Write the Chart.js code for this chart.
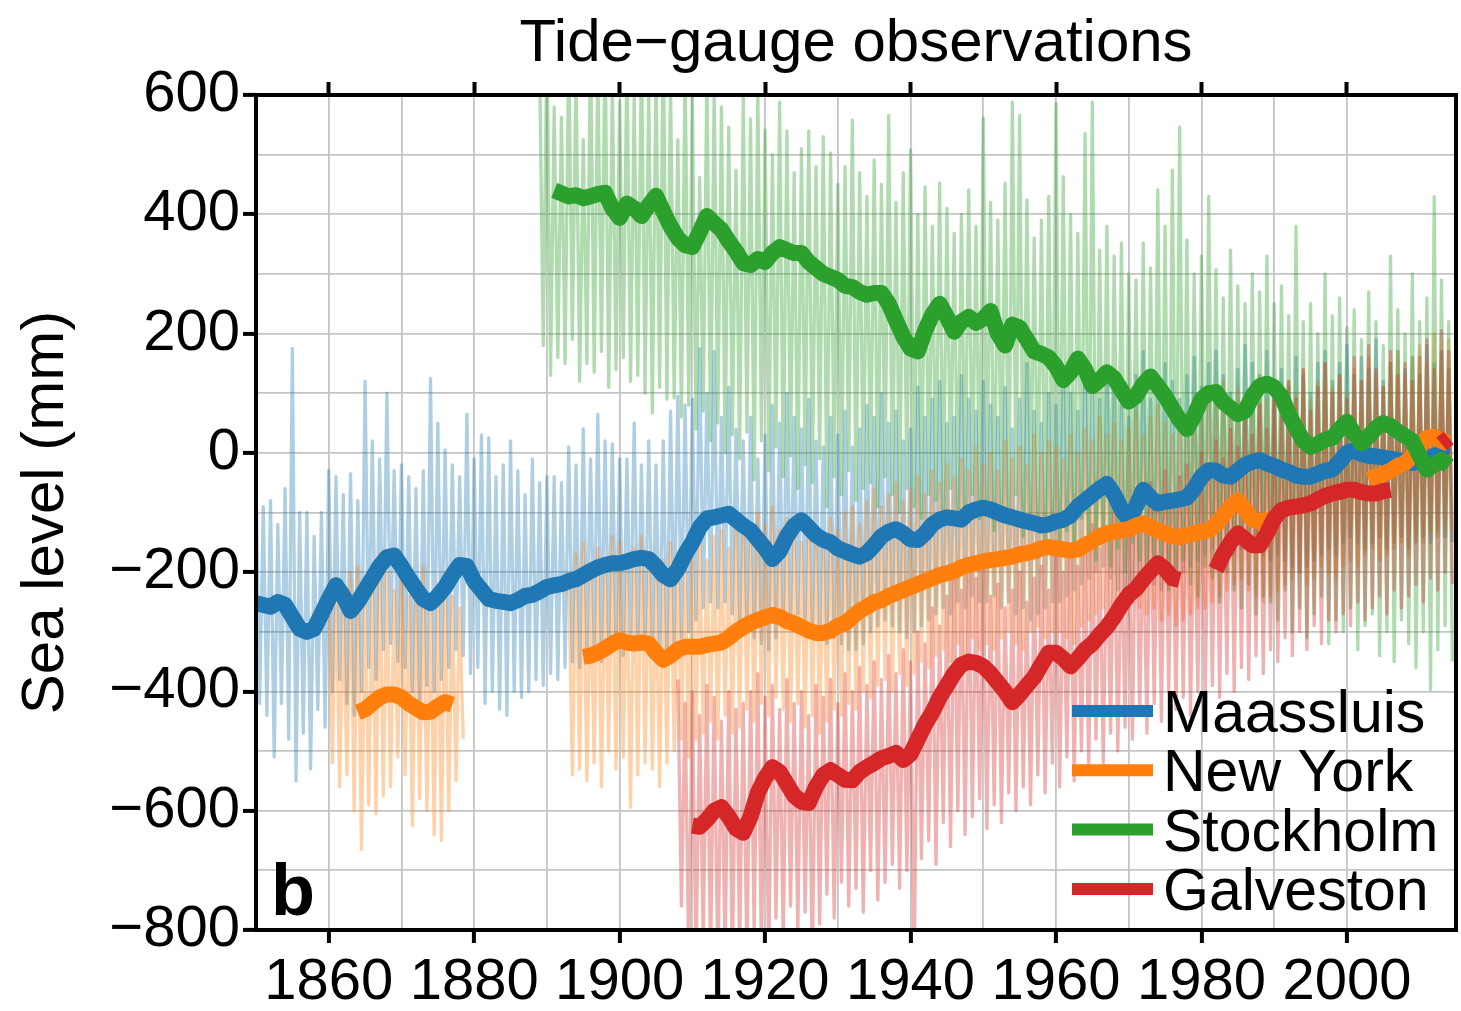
<!DOCTYPE html>
<html>
<head>
<meta charset="utf-8">
<title>Tide-gauge observations</title>
<script src="https://cdn.jsdelivr.net/npm/chart.js@4.4.1/dist/chart.umd.min.js"></script>
<style>
  html, body { margin: 0; padding: 0; background: #fff; }
  canvas { display: block; }
</style>
</head>
<body>
<canvas id="seaLevelChart" width="1461" height="1011"></canvas>
<script>
// ---- data (mm, one value per year) ----
const chartTitle = 'Tide\u2212gauge observations';
const stationNames = ['Maassluis', 'New York', 'Stockholm', 'Galveston'];
const stationColors = ['#1f77b4', '#ff7f0e', '#2ca02c', '#d62728'];
const stationLight = ['rgba(31,119,180,0.36)', 'rgba(255,127,14,0.36)', 'rgba(44,160,44,0.38)', 'rgba(214,39,40,0.36)'];

// Maassluis
const maassluisStart = 1850;
const maassluisSmooth = [
  -252, -255, -258, -250, -255, -275, -295, -300, -295, -270,
  -245, -222, -240, -265, -250, -230, -210, -190, -175, -172,
  -190, -210, -228, -245, -252, -240, -225, -205, -188, -190,
  -215, -230, -245, -248, -250, -252, -247, -240, -238, -232,
  -225, -222, -220, -215, -212, -205, -198, -192, -188, -185,
  -185, -182, -178, -176, -178, -190, -205, -212, -195, -170,
  -150, -125, -110, -108, -105, -102, -112, -122, -130, -145,
  -160, -178, -165, -140, -122, -113, -125, -138, -146, -150,
  -160, -165, -170, -174, -168, -155, -140, -132, -128, -135,
  -145, -146, -135, -120, -112, -108, -110, -112, -100, -95,
  -92, -95, -100, -105, -108, -112, -115, -118, -122, -120,
  -115, -112, -105, -90, -80, -70, -60, -52, -70, -95,
  -112, -90, -62, -75, -85, -82, -80, -78, -75, -60,
  -40, -29, -30, -38, -40, -30, -20, -15, -12, -18,
  -22, -28, -32, -38, -40, -40, -35, -30, -28, -15,
  0, 5, -2, -5, -6, -8, -10, -12, -15, -17,
  -12, -8, -5, -2, -5
];
const maassluisHigh = [
  -40, -90, -80, -120, -60, 175, -100, -100, -140, -100,
  -30, -40, -70, -35, -80, 120, 20, -10, 100, -30,
  -20, -40, -60, -30, 125, 50, 5, -20, -40, 65,
  -10, 30, 25, -40, -20, 20, -30, -70, -10, -50,
  -40, -40, -50, 10, -20, 40, -10, 65, 20, 15,
  -10, -10, 50, -20, 20, -20, 20, 70, 95, 80,
  90, 175, 100, 170, 60, 110, 40, 20, 60, -10,
  30, 80, 50, 100, 60, 40, 90, 20, 10, 60,
  30, 70, 10, 40, 80, 60, 100, 50, 70, 20,
  40, 110, 60, 90, 120, 50, 60, 130, 90, 70,
  120, 80, 60, 110, 40, 90, 150, 70, 50, 100,
  80, 140, 100, 70, 160, 110, 90, 140, 120, 80,
  60, 130, 170, 90, 110, 150, 120, 90, 130, 160,
  110, 150, 170, 130, 100, 140, 180, 150, 130, 170,
  120, 140, 110, 160, 130, 100, 150, 170, 120, 150,
  180, 130, 160, 140, 190, 120, 150, 170, 140, 160,
  130, 180, 150, 170, 140
];
const maassluisLow = [
  -420, -440, -510, -420, -480, -550, -470, -530, -430, -460,
  -400, -380, -420, -440, -400, -360, -380, -330, -320, -350,
  -360, -400, -420, -390, -400, -380, -360, -330, -340, -370,
  -360, -420, -400, -430, -440, -400, -410, -400, -380, -390,
  -370, -380, -360, -350, -360, -340, -330, -350, -330, -320,
  -340, -320, -320, -330, -330, -340, -350, -320, -310, -300,
  -280, -260, -250, -260, -250, -270, -280, -300, -310, -320,
  -330, -310, -290, -280, -270, -290, -300, -310, -320, -310,
  -320, -330, -330, -320, -300, -290, -280, -290, -300, -310,
  -300, -290, -280, -270, -260, -270, -250, -260, -240, -250,
  -250, -240, -260, -250, -270, -260, -280, -270, -260, -250,
  -250, -240, -230, -220, -210, -200, -190, -210, -230, -240,
  -250, -230, -210, -220, -230, -220, -210, -200, -190, -180,
  -170, -160, -170, -180, -170, -160, -150, -160, -170, -180,
  -170, -180, -190, -200, -190, -180, -170, -160, -170, -150,
  -140, -150, -160, -150, -140, -160, -150, -140, -160, -150,
  -140, -150, -130, -140, -150
];

// New York
const newYorkStart = 1864;
const newYorkSmooth = [
  -435, -430, -420, -410, -405, -405, -410, -420, -428, -435, -434, -425, -418, -422,
  null, null, null, null, null, null, null, null, null, null, null, null, null, null, null, null, null,
  -342, -340, -335, -328, -320,
  -314, -318, -320, -318, -320, -335, -347, -340, -330, -325,
  -325, -325, -322, -320, -318, -310, -300, -292, -285, -280,
  -276, -272, -275, -282, -286, -292, -298, -302, -302, -298,
  -290, -286, -275, -265, -258, -250, -247, -240, -235, -230,
  -225, -220, -215, -210, -205, -202, -198, -192, -188, -185,
  -182, -180, -178, -176, -174, -170, -168, -165, -160, -158,
  -160, -162, -164, -162, -155, -148, -140, -135, -132, -130,
  -128, -122, -118, -125, -130, -135, -140, -141, -138, -135,
  -132, -130, -120, -105, -90, -80, -95, -112, -115, -113,
  -110,
  null, null, null, null, null, null, null, null, null, null, null, null,
  -45, -40, -35, -30, -22, -17, -5,
  10, 25, 27, 20, 16
];
const newYorkRawStart = 1860;
const newYorkHigh = [
  -230, -210, -250, -200, -190, -240, -220, -170, -200, -230,
  -180, -240, -210, -190, -250, -220, -200, -240, -260,
  null, null, null, null, null, null, null, null, null, null, null, null, null, null,
  -200, -170, -150, -210, -160, -180, -140,
  -150, -190, -160, -140, -170, -200, -180, -150, -170, -190,
  -160, -150, -180, -140, -130, -160, -120, -110, -140, -100,
  -120, -90, -130, -110, -140, -150, -120, -130, -160, -110,
  -130, -100, -90, -120, -80, -60, -90, -70, -50, -80,
  -60, -40, -70, -30, -50, -20, -40, -10, -30, 10,
  -20, 0, -30, 20, -10, 10, -20, 30, 0, 20,
  10, -10, 30, 0, 40, 20, 60, 30, 50, 20,
  40, 70, 30, 60, 80, 50, 30, 70, 60, 90,
  60, 100, 80, 120, 90, 110, 70, 100, 130, 90,
  110, 80, 120, 100, 140, 90, 120, 150, 110, 130,
  100, 140, 120, 160, 130, 110, 150, 170, 130, 160,
  180, 150, 200, 170, 190
];
const newYorkLow = [
  -520, -560, -540, -600, -665, -590, -605, -575, -560, -510,
  -540, -625, -580, -600, -640, -650, -600, -550, -480,
  null, null, null, null, null, null, null, null, null, null, null, null, null, null,
  -540, -530, -550, -520, -560, -500, -530,
  -510, -594, -540, -520, -530, -560, -520, -500, -480, -510,
  -480, -470, -450, -480, -440, -470, -460, -430, -450, -420,
  -440, -410, -430, -450, -420, -460, -440, -470, -450, -430,
  -440, -420, -430, -400, -410, -390, -380, -400, -370, -390,
  -370, -350, -360, -340, -330, -350, -320, -340, -310, -330,
  -320, -330, -310, -300, -320, -330, -300, -290, -310, -300,
  -300, -310, -320, -290, -280, -270, -260, -280, -270, -250,
  -250, -260, -270, -260, -280, -270, -290, -280, -270, -260,
  -260, -250, -240, -230, -220, -210, -230, -240, -250, -240,
  -230, -220, -210, -200, -220, -210, -190, -200, -210, -190,
  -180, -190, -170, -160, -180, -170, -160, -150, -170, -140,
  -150, -130, -140, -120, -130
];

// Stockholm
const stockholmStart = 1891;
const stockholmSmooth = [
  440, 435, 430, 432, 427, 430, 434, 436, 410, 394,
  418, 410, 397, 415, 431, 405, 380, 360, 348, 345,
  370, 397, 385, 374, 355, 338, 318, 315, 325, 320,
  335, 345, 340, 335, 335, 320, 310, 300, 295, 290,
  280, 278, 270, 265, 268, 268, 250, 222, 195, 175,
  170, 205, 232, 250, 228, 203, 220, 228, 218, 225,
  238, 200, 180, 215, 210, 190, 170, 166, 160, 145,
  122, 135, 158, 140, 112, 122, 135, 125, 105, 86,
  95, 115, 128, 112, 95, 75, 55, 40, 62, 90,
  100, 102, 85, 75, 65, 70, 95, 112, 116, 110,
  95, 65, 42, 20, 10, 15, 22, 25, 40, 52,
  32, 16, 28, 42, 50, 45, 36, 28, 20, -5,
  -28, -20, -12, -22
];
const stockholmRawStart = 1889;
const stockholmHigh = [
  650, 700, 580, 563, 680, 640, 525, 700, 650, 690,
  620, 590, 660, 595, 680, 610, 640, 700, 620, 525,
  650, 600, 462, 640, 610, 580, 546, 474, 597, 560,
  610, 541, 500, 588, 540, 470, 510, 540, 480, 530,
  503, 450, 480, 558, 470, 430, 491, 450, 566, 420,
  470, 508, 400, 446, 380, 452, 410, 368, 400, 441,
  380, 561, 420, 390, 452, 588, 566, 424, 360, 390,
  430, 586, 463, 400, 368, 535, 588, 340, 380, 330,
  352, 300, 290, 352, 310, 441, 380, 474, 546, 357,
  300, 330, 430, 307, 260, 340, 280, 250, 300, 270,
  330, 250, 280, 230, 380, 220, 250, 200, 300, 230,
  260, 210, 240, 190, 270, 220, 180, 330, 240, 200,
  300, 220, 260, 430, 290, 220
];
const stockholmLow = [
  180, 130, 160, 150, 190, 120, 150, 135, 170, 110,
  140, 160, 120, 130, 100, 67, 110, 90, 92, 60,
  80, 40, 70, 20, 50, 0, 30, -10, 35, -45,
  20, -30, 10, -40, -5, -60, -20, -50, -10, -90,
  -40, -70, -30, -80, -60, -50, -90, -40, -70, -100,
  -60, -90, -110, -70, -80, -120, -60, -100, -90, -70,
  -110, -80, -130, -90, -120, -70, -140, -100, -110, -150,
  -120, -160, -130, -170, -110, -150, -180, -140, -190, -160,
  -200, -150, -180, -210, -170, -190, -230, -200, -180, -220,
  -240, -190, -210, -250, -200, -230, -260, -220, -270, -240,
  -250, -280, -230, -300, -260, -310, -270, -240, -320, -280,
  -300, -260, -330, -290, -270, -340, -300, -350, -280, -320,
  -360, -300, -397, -330, -290, -350
];

// Galveston
const galvestonStart = 1910;
const galvestonSmooth = [
  -625,
  -627, -615, -600, -594, -610, -630, -637, -610, -570, -545,
  -527, -535, -555, -575, -585, -587, -560, -540, -532, -540,
  -548, -549, -535, -527, -520, -512, -508, -503, -515, -505,
  -480, -455, -435, -410, -390, -370, -355, -350, -352, -358,
  -370, -385, -400, -418, -405, -390, -376, -355, -335, -335,
  -345, -358, -345, -330, -320, -305, -292, -275, -255, -238,
  -228, -212, -198, -185, -195, -210, -213,
  null, null, null, null,
  -196, -170, -150, -135, -145, -155, -155, -135, -110,
  -96, -92, -90, -88, -85, -78, -72, -68, -65, -62,
  -62, -66, -68, -68, -64, -62,
  null, null, null, null, null, null,
  15, 25
];
const galvestonRawStart = 1908;
const galvestonHigh = [
  -380, -420, -400, -440, -390, -410, -450, -400, -430, -420,
  -400, -370, -410, -390, -430, -380, -420, -400, -440, -390,
  -410, -380, -420, -370, -400, -360, -390, -350, -380, -340,
  -370, -330, -350, -300, -320, -260, -290, -240, -200, -230,
  -180, -210, -190, -240, -220, -260, -230, -200, -250, -210,
  -190, -230, -170, -200, -160, -190, -150, -120, -160, -130,
  -100, -140, -90, -60, -110, -50, -80, -30, -70, -40,
  -20, -50, 0, -30, 20, -10, 40, 10, 60, 30,
  80, 40, 100, 60, 120, 90, 140, 70, 110, 150,
  100, 130, 90, 160, 120, 180, 140, 110, 170, 130,
  150, 120, 160, 190, 140, 205, 170
];
const galvestonLow = [
  -760, -850, -860, -820, -850, -870, -840, -860, -830, -850,
  -800, -840, -860, -780, -820, -760, -800, -770, -850, -790,
  -740, -780, -720, -760, -730, -770, -700, -750, -720, -690,
  -730, -700, -870, -680, -650, -690, -620, -660, -600, -640,
  -610, -580, -630, -590, -620, -570, -600, -560, -590, -540,
  -570, -520, -560, -510, -550, -500, -530, -480, -520, -470,
  -500, -460, -480, -440, -470, -420, -450, -400, -430, -410,
  -440, -400, -420, -390, -410, -370, -400, -360, -380, -340,
  -370, -330, -350, -310, -340, -300, -330, -290, -320, -280,
  -300, -270, -290, -250, -280, -260, -240, -270, -230, -260,
  -240, -220, -250, -210, -230, -200, -220
];

// ---- helpers: turn the yearly arrays into {x, y} points ----
function yearly(start, values) {
  return values.map((v, i) => ({ x: start + i, y: v }));
}

// raw record: high reading then low reading inside each year
function spikes(start, high, low) {
  const pts = [];
  for (let i = 0; i < high.length; i++) {
    if (high[i] === null) {
      pts.push({ x: start + i, y: null });
      continue;
    }
    pts.push({ x: start + i, y: high[i] });
    pts.push({ x: start + i + 0.5, y: low[i] });
  }
  return pts;
}

const rawSets = [
  spikes(maassluisStart, maassluisHigh, maassluisLow),
  spikes(newYorkRawStart, newYorkHigh, newYorkLow),
  spikes(stockholmRawStart, stockholmHigh, stockholmLow),
  spikes(galvestonRawStart, galvestonHigh, galvestonLow)
];
const smoothSets = [
  yearly(maassluisStart, maassluisSmooth),
  yearly(newYorkStart, newYorkSmooth),
  yearly(stockholmStart, stockholmSmooth),
  yearly(galvestonStart, galvestonSmooth)
];

const datasets = [];
rawSets.forEach((pts, i) => {
  datasets.push({
    label: stationNames[i] + ' (raw)',
    data: pts,
    borderColor: stationLight[i],
    borderWidth: 3.3,
    pointRadius: 0,
    tension: 0,
    spanGaps: false,
    borderJoinStyle: 'round',
    clip: 0,
    order: 10 - i
  });
});
smoothSets.forEach((pts, i) => {
  datasets.push({
    label: stationNames[i],
    data: pts,
    borderColor: stationColors[i],
    borderWidth: 16,
    pointRadius: 0,
    tension: 0,
    spanGaps: false,
    borderJoinStyle: 'round',
    borderCapStyle: 'butt',
    clip: 0,
    order: 4 - i
  });
});

const fontFamily = '"Liberation Sans", Arial, Helvetica, sans-serif';
Chart.defaults.font.family = fontFamily;
Chart.defaults.color = '#000';

function minusLabel(v) {
  return v < 0 ? '\u2212' + Math.abs(v) : String(v);
}

// frame, title, panel letter and legend
const overlayPlugin = {
  id: 'overlay',
  afterDraw(chart) {
    const ctx = chart.ctx;
    const a = chart.chartArea;
    ctx.save();
    ctx.strokeStyle = '#000';
    ctx.lineWidth = 4;
    ctx.strokeRect(a.left, a.top, a.right - a.left, a.bottom - a.top);

    ctx.fillStyle = '#000';
    ctx.font = '60px ' + fontFamily;
    ctx.textAlign = 'center';
    ctx.textBaseline = 'alphabetic';
    ctx.fillText(chartTitle, (a.left + a.right) / 2, 61);

    ctx.font = 'bold 72px ' + fontFamily;
    ctx.textAlign = 'left';
    ctx.fillText('b', a.left + 15, a.bottom - 15);

    ctx.font = '59px ' + fontFamily;
    stationNames.forEach((name, i) => {
      const base = a.bottom - 198 + i * 59.3;
      ctx.strokeStyle = stationColors[i];
      ctx.lineWidth = 12;
      ctx.lineCap = 'butt';
      ctx.beginPath();
      ctx.moveTo(a.right - 384, base - 21);
      ctx.lineTo(a.right - 303, base - 21);
      ctx.stroke();
      ctx.fillText(name, a.right - 293, base);
    });
    ctx.restore();
  }
};

const gridColor = '#c4c4c4';

new Chart(document.getElementById('seaLevelChart'), {
  type: 'line',
  data: { datasets: datasets },
  options: {
    responsive: false,
    devicePixelRatio: 1,
    animation: false,
    events: [],
    layout: { padding: { left: 0, right: 2, top: 0, bottom: 0 } },
    plugins: {
      legend: { display: false },
      tooltip: { enabled: false },
      title: { display: false }
    },
    scales: {
      x: {
        type: 'linear',
        position: 'bottom',
        min: 1850,
        max: 2015,
        afterFit: function(scale) { scale.height = 81; },
        border: { display: false },
        grid: {
          color: gridColor,
          lineWidth: 1.8,
          tickLength: 13,
          tickWidth: 4,
          tickColor: function(c) {
            return c.tick && c.tick.value % 20 === 0 ? '#000' : 'rgba(0,0,0,0)';
          }
        },
        ticks: {
          stepSize: 10,
          autoSkip: false,
          maxRotation: 0,
          padding: 5,
          font: { size: 58 },
          color: '#000',
          callback: function(v) { return v % 20 === 0 ? String(v) : ''; }
        }
      },
      xTop: {
        type: 'linear',
        position: 'top',
        min: 1850,
        max: 2015,
        afterFit: function(scale) { scale.height = 95; },
        border: { display: false },
        grid: {
          drawOnChartArea: false,
          tickLength: 13,
          tickWidth: 4,
          color: function(c) {
            return c.tick && c.tick.value % 20 === 0 ? '#000' : 'rgba(0,0,0,0)';
          }
        },
        ticks: { display: false, stepSize: 10, autoSkip: false }
      },
      y: {
        type: 'linear',
        position: 'left',
        min: -800,
        max: 600,
        afterFit: function(scale) { scale.width = 256; },
        border: { display: false },
        title: {
          display: true,
          text: 'Sea level (mm)',
          font: { size: 60 },
          color: '#000',
          padding: { top: 10, bottom: 0 }
        },
        grid: {
          color: gridColor,
          lineWidth: 1.8,
          tickLength: 13,
          tickWidth: 4,
          tickColor: function(c) {
            return c.tick && c.tick.value % 200 === 0 ? '#000' : 'rgba(0,0,0,0)';
          }
        },
        ticks: {
          stepSize: 100,
          autoSkip: false,
          padding: 3,
          font: { size: 58 },
          color: '#000',
          callback: function(v) { return v % 200 === 0 ? minusLabel(v) : ''; }
        }
      }
    }
  },
  plugins: [overlayPlugin]
});
</script>
</body>
</html>
